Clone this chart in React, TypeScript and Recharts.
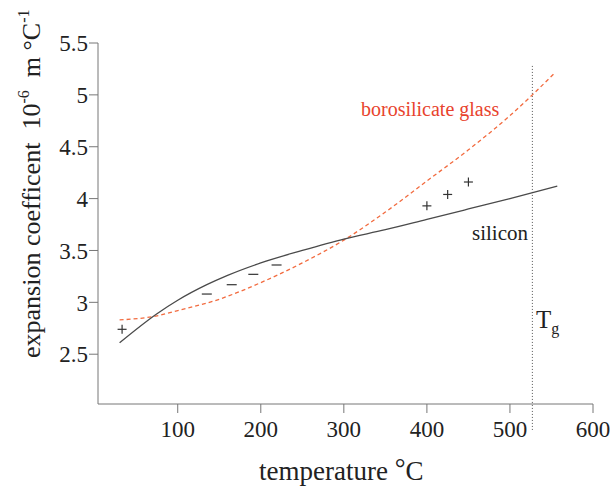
import React from 'react';
import { ComposedChart, Line, Scatter, XAxis, YAxis, ReferenceLine } from 'recharts';

const siliconT = [30, 75, 100, 135, 160, 200, 250, 300, 350, 400, 450, 500, 557];
const siliconV = [2.61, 2.89, 3.02, 3.17, 3.26, 3.38, 3.5, 3.61, 3.7, 3.8, 3.9, 4.0, 4.12];
const glassT = [30, 75, 100, 150, 200, 250, 300, 350, 400, 450, 500, 527, 555];
const glassV = [2.83, 2.87, 2.92, 3.03, 3.19, 3.38, 3.6, 3.87, 4.17, 4.47, 4.8, 5.0, 5.22];
const plusT = [33, 400, 425, 450];
const plusV = [2.74, 3.93, 4.04, 4.16];
const dashT = [135, 165, 191, 219];
const dashV = [3.08, 3.17, 3.27, 3.36];
const xTicks = [100, 200, 300, 400, 500, 600];
const yTicks = [2.5, 3, 3.5, 4, 4.5, 5, 5.5];
const tgT = 527;
const tgRange = [1.77, 5.28];

const silicon = siliconT.map((t, i) => ({ t, v: siliconV[i] }));
const glass = glassT.map((t, i) => ({ t, v: glassV[i] }));
const plus = plusT.map((t, i) => ({ t, v: plusV[i] }));
const dash = dashT.map((t, i) => ({ t, v: dashV[i] }));

const FONT = 'Liberation Serif';

const PlusShape = (p: any) => (
  <g stroke="#333" strokeWidth={1.2}>
    <line x1={p.cx - 4.5} x2={p.cx + 4.5} y1={p.cy} y2={p.cy} />
    <line x1={p.cx} x2={p.cx} y1={p.cy - 4.5} y2={p.cy + 4.5} />
  </g>
);
const DashShape = (p: any) => (
  <g stroke="#333" strokeWidth={1.2}>
    <line x1={p.cx - 5} x2={p.cx + 5} y1={p.cy} y2={p.cy} />
  </g>
);

const tickStyle = { fill: '#222', fontSize: 23, fontFamily: FONT, style: { fontFamily: FONT } };

export default function App() {
  return (
    <div style={{ position: 'absolute', left: 0, top: 0, width: 611, height: 486, background: '#fff', fontFamily: FONT }}>
      <ComposedChart width={611} height={486} margin={{ top: 43, right: 18, bottom: 0, left: 0 }} style={{ fontFamily: FONT }}>
        <XAxis
          type="number"
          dataKey="t"
          domain={[4, 600]}
          ticks={xTicks}
          allowDataOverflow
          height={82}
          stroke="#777"
          tickSize={9}
          tickMargin={8}
          tick={tickStyle}
        />
        <YAxis
          type="number"
          dataKey="v"
          domain={[2.02, 5.5]}
          ticks={yTicks}
          allowDataOverflow
          width={98}
          stroke="#777"
          tickSize={9}
          tickMargin={1}
          tick={tickStyle}
        />
        <ReferenceLine
          segment={[{ x: tgT, y: tgRange[0] }, { x: tgT, y: tgRange[1] }]}
          ifOverflow="visible"
          stroke="#555"
          strokeDasharray="1 2"
          strokeWidth={1}
        />
        <Line
          data={glass}
          dataKey="v"
          type="monotone"
          stroke="#f26b3f"
          strokeWidth={1.3}
          strokeDasharray="4 3"
          dot={false}
          isAnimationActive={false}
        />
        <Line
          data={silicon}
          dataKey="v"
          type="monotone"
          stroke="#4a4a4a"
          strokeWidth={1.3}
          dot={false}
          isAnimationActive={false}
        />
        <Scatter data={plus} dataKey="v" shape={PlusShape} isAnimationActive={false} />
        <Scatter data={dash} dataKey="v" shape={DashShape} isAnimationActive={false} />
      </ComposedChart>
      <svg width={611} height={486} style={{ position: 'absolute', left: 0, top: 0, pointerEvents: 'none', fontFamily: FONT }}>
        <text x={361} y={116} fontSize={20} style={{ fontFamily: FONT }} fill="#e8432d">borosilicate glass</text>
        <text x={472} y={240} fontSize={21} style={{ fontFamily: FONT }} fill="#222">silicon</text>
        <text x={536} y={328} fontSize={25} style={{ fontFamily: FONT }} fill="#222">
          T<tspan fontSize={16} dy={6}>g</tspan>
        </text>
        <text x={259} y={480} fontSize={27} style={{ fontFamily: FONT }} fill="#222">
          temperature <tspan dy={-3}>°</tspan><tspan dy={3}>C</tspan>
        </text>
        <text
          transform="translate(40,358) rotate(-90)"
          x={0}
          y={0}
          fontSize={26}
          style={{ fontFamily: FONT }}
          fill="#222"
        >
          expansion coefficent{'\u00a0\u00a0'}10<tspan fontSize={16} dy={-11}>-6</tspan>
          <tspan dy={11}>{'\u00a0\u00a0'}m</tspan>
          <tspan>{'\u00a0'}°C</tspan>
          <tspan fontSize={16} dy={-11}>-1</tspan>
        </text>
      </svg>
    </div>
  );
}
